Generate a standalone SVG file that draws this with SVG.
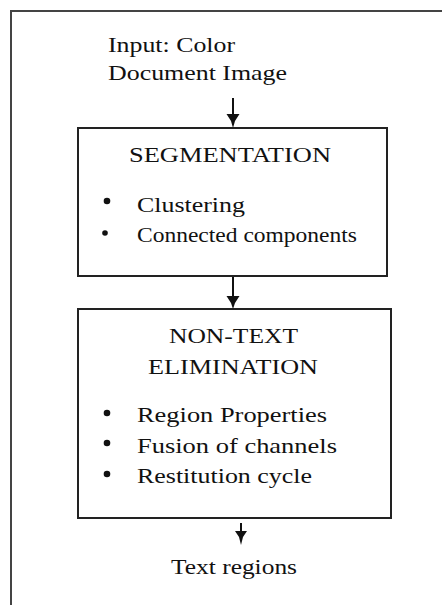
<svg xmlns="http://www.w3.org/2000/svg" width="442" height="605" viewBox="0 0 442 605">
<style>
text{font-size:21px;fill:#111}
.box{fill:#fff;stroke:#222;stroke-width:2}
.ln{stroke:#111;stroke-width:2;fill:none}
.hd{fill:#111}
.dot{fill:#111}
</style>
<rect width="442" height="605" fill="#fff"/>
<path d="M11 605 V11 H442" fill="none" stroke="#444" stroke-width="2"/>
<g font-family="Liberation Serif, DejaVu Serif, serif">
<g id="input"><text x="108" y="52" textLength="127" lengthAdjust="spacingAndGlyphs">Input: Color</text><text x="108" y="80" textLength="179" lengthAdjust="spacingAndGlyphs">Document Image</text></g>
<g id="segmentation"><rect class="box" x="78" y="128" width="309" height="148"/><text x="129" y="162" textLength="202" lengthAdjust="spacingAndGlyphs">SEGMENTATION</text><circle class="dot" cx="107" cy="201" r="3.3"/><text x="137" y="212" textLength="108" lengthAdjust="spacingAndGlyphs">Clustering</text><circle class="dot" cx="105" cy="233" r="2.8"/><text x="137" y="242" textLength="220" lengthAdjust="spacingAndGlyphs">Connected components</text></g>
<g id="nontext"><rect class="box" x="78" y="309" width="313" height="209"/><text x="169" y="343" textLength="129" lengthAdjust="spacingAndGlyphs">NON-TEXT</text><text x="148" y="374" textLength="170" lengthAdjust="spacingAndGlyphs">ELIMINATION</text><circle class="dot" cx="107" cy="413" r="3.3"/><text x="137" y="422" textLength="190" lengthAdjust="spacingAndGlyphs">Region Properties</text><circle class="dot" cx="107" cy="443" r="3.3"/><text x="137" y="453" textLength="200" lengthAdjust="spacingAndGlyphs">Fusion of channels</text><circle class="dot" cx="107" cy="474" r="3.3"/><text x="137" y="483" textLength="175" lengthAdjust="spacingAndGlyphs">Restitution cycle</text></g>
<g id="output"><text x="171" y="574" textLength="126" lengthAdjust="spacingAndGlyphs">Text regions</text></g>
</g>
<g id="connectors">
<line class="ln" x1="233" y1="98" x2="233" y2="116"/><path class="hd" d="M226.5 114 L239.5 114 L235 121 L233 128 L231 121 Z"/>
<line class="ln" x1="233" y1="277" x2="233" y2="297"/><path class="hd" d="M226.5 296 L239.5 296 L235 303 L233 309 L231 303 Z"/>
<line class="ln" x1="241" y1="523" x2="241" y2="532"/><path class="hd" d="M235 531 L247 531 L243 537 L241 545 L239 537 Z"/>
</g>
</svg>
